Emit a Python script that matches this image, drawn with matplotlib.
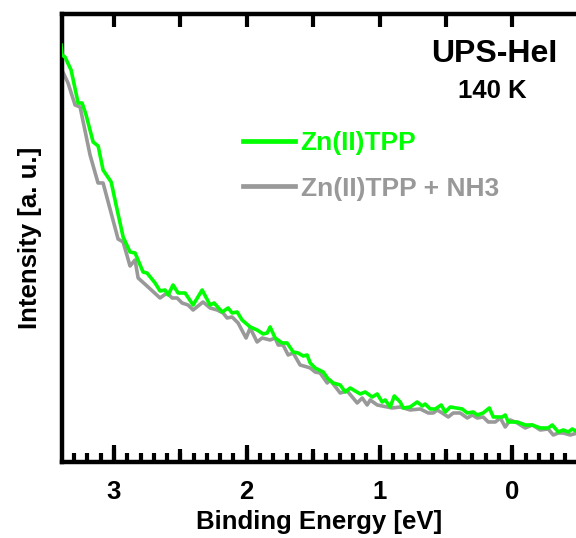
import matplotlib
matplotlib.use('Agg')
import matplotlib.pyplot as plt
from matplotlib.ticker import MultipleLocator, NullLocator

plt.rcParams['font.family'] = ['Liberation Sans', 'DejaVu Sans']
plt.rcParams['font.weight'] = 'bold'

# Zn(II)TPP spectrum (binding energy in eV, intensity in a. u.)
e_clean = [3.399, 3.391, 3.369, 3.323, 3.270, 3.240, 3.210, 3.157, 3.119, 3.082,
           3.021, 2.984, 2.931, 2.879, 2.841, 2.781, 2.751, 2.690, 2.653, 2.615,
           2.592, 2.555, 2.517, 2.464, 2.404, 2.336, 2.276, 2.246, 2.185, 2.140,
           2.110, 2.072, 2.035, 1.974, 1.922, 1.876, 1.846, 1.824, 1.786, 1.733,
           1.696, 1.650, 1.613, 1.575, 1.545, 1.522, 1.485, 1.424, 1.387, 1.349,
           1.296, 1.258, 1.221, 1.145, 1.108, 1.055, 1.017, 0.980, 0.957, 0.919,
           0.889, 0.844, 0.821, 0.769, 0.716, 0.678, 0.656, 0.618, 0.580, 0.535,
           0.505, 0.467, 0.377, 0.339, 0.294, 0.264, 0.219, 0.173, 0.143, 0.075,
           0.053, 0.030, -0.038, -0.098, -0.151, -0.211, -0.271, -0.301, -0.347, -0.384,
           -0.422, -0.452, -0.490]
i_clean = [4.16, 4.06, 4.04, 3.91, 3.58, 3.58, 3.46, 3.19, 3.15, 2.91,
           2.79, 2.56, 2.24, 2.09, 2.08, 1.89, 1.88, 1.78, 1.70, 1.71,
           1.66, 1.76, 1.68, 1.68, 1.56, 1.71, 1.56, 1.58, 1.49, 1.53,
           1.48, 1.49, 1.41, 1.34, 1.31, 1.27, 1.28, 1.34, 1.23, 1.18,
           1.18, 1.09, 1.08, 1.05, 1.06, 0.98, 0.93, 0.89, 0.82, 0.78,
           0.76, 0.69, 0.73, 0.67, 0.69, 0.64, 0.67, 0.59, 0.61, 0.54,
           0.65, 0.59, 0.53, 0.54, 0.59, 0.55, 0.57, 0.52, 0.52, 0.56,
           0.49, 0.54, 0.52, 0.48, 0.49, 0.46, 0.48, 0.53, 0.44, 0.44,
           0.46, 0.39, 0.39, 0.36, 0.36, 0.33, 0.33, 0.36, 0.29, 0.31,
           0.29, 0.32, 0.29]

# Zn(II)TPP + NH3 spectrum
e_nh3 = [3.399, 3.346, 3.293, 3.255, 3.180, 3.120, 3.082, 2.969, 2.931, 2.879,
         2.841, 2.818, 2.743, 2.653, 2.600, 2.562, 2.524, 2.487, 2.442, 2.404,
         2.329, 2.276, 2.223, 2.178, 2.148, 2.110, 2.065, 2.005, 1.974, 1.922,
         1.884, 1.824, 1.786, 1.763, 1.726, 1.688, 1.650, 1.598, 1.545, 1.522,
         1.485, 1.447, 1.394, 1.372, 1.296, 1.243, 1.168, 1.130, 1.093, 1.070,
         1.017, 0.942, 0.904, 0.844, 0.769, 0.693, 0.633, 0.595, 0.565, 0.528,
         0.482, 0.445, 0.392, 0.339, 0.301, 0.264, 0.219, 0.181, 0.128, 0.090,
         0.053, 0.015, -0.038, -0.098, -0.151, -0.211, -0.271, -0.309, -0.347, -0.384,
         -0.437, -0.490]
i_nh3 = [3.93, 3.78, 3.56, 3.54, 3.06, 2.78, 2.78, 2.22, 2.19, 1.95,
         2.01, 1.83, 1.74, 1.63, 1.68, 1.63, 1.63, 1.58, 1.56, 1.51,
         1.59, 1.53, 1.51, 1.48, 1.43, 1.44, 1.38, 1.23, 1.33, 1.19,
         1.23, 1.21, 1.23, 1.16, 1.16, 1.06, 1.08, 0.96, 0.94, 0.93,
         0.89, 0.88, 0.78, 0.81, 0.68, 0.70, 0.58, 0.63, 0.56, 0.61,
         0.56, 0.54, 0.53, 0.54, 0.51, 0.52, 0.48, 0.48, 0.51, 0.48,
         0.44, 0.48, 0.48, 0.43, 0.46, 0.43, 0.44, 0.39, 0.39, 0.43,
         0.34, 0.41, 0.38, 0.33, 0.36, 0.31, 0.32, 0.26, 0.28, 0.28,
         0.26, 0.28]

labels = ['Zn(II)TPP', 'Zn(II)TPP + NH3']
colors = ['#00ff00', '#999999']

fig = plt.figure(figsize=(5.76, 5.38), dpi=100)
ax = fig.add_axes([0.1068, 0.1413, 0.8932, 0.8327])

ax.plot(e_nh3, i_nh3, color=colors[1], lw=2.6, label=labels[1], zorder=2)
ax.plot(e_clean, i_clean, color=colors[0], lw=2.6, label=labels[0], zorder=3)

ax.set_xlim(3.395, -0.48)
ax.set_ylim(-0.01, 4.47)

for s in ['left', 'top', 'bottom']:
    ax.spines[s].set_linewidth(3.2)
ax.spines['right'].set_visible(False)

ax.yaxis.set_major_locator(NullLocator())
ax.xaxis.set_major_locator(MultipleLocator(1))
ax.xaxis.set_minor_locator(MultipleLocator(0.1))
ax.tick_params(axis='x', which='major', direction='in', length=12.5, width=3,
               top=True, bottom=True, labelsize=18.5, pad=13)
ax.tick_params(axis='x', which='minor', direction='in', length=6.5, width=3,
               top=True, bottom=True)
for lab in ax.get_xticklabels():
    lab.set_fontweight('bold')

# medium ticks at half-eV steps
ax2 = ax.twiny()
ax2.set_xlim(ax.get_xlim())
ax2.xaxis.set_major_locator(MultipleLocator(0.5))
ax2.xaxis.set_minor_locator(NullLocator())
ax2.tick_params(axis='x', which='major', direction='in', length=9.5, width=3,
                top=True, bottom=True, labeltop=False, labelbottom=False)
for s in ax2.spines.values():
    s.set_visible(False)

ax.set_xlabel('Binding Energy [eV]', fontsize=18.5, fontweight='bold', labelpad=4)
ax.set_ylabel('Intensity [a. u.]', fontsize=18.5, fontweight='bold', labelpad=14)

fig.text(494 / 576, 1 - 53.5 / 538, 'UPS-HeI', fontsize=23, fontweight='bold',
         ha='center', va='center')
fig.text(492.5 / 576, 1 - 90.5 / 538, '140 K', fontsize=18.5, fontweight='bold',
         ha='center', va='center')

handles, labs = ax.get_legend_handles_labels()
leg = ax.legend(handles[::-1], labs[::-1], loc='center left',
                bbox_to_anchor=(219 / 576, 1 - 166 / 538),
                bbox_transform=fig.transFigure, frameon=False,
                handlelength=1.97, handletextpad=0.22, labelspacing=0.8,
                prop={'size': 19, 'weight': 'bold'}, labelcolor='linecolor')
for line in leg.get_lines():
    line.set_linewidth(3.4)

fig.savefig('out.png', dpi=100)
